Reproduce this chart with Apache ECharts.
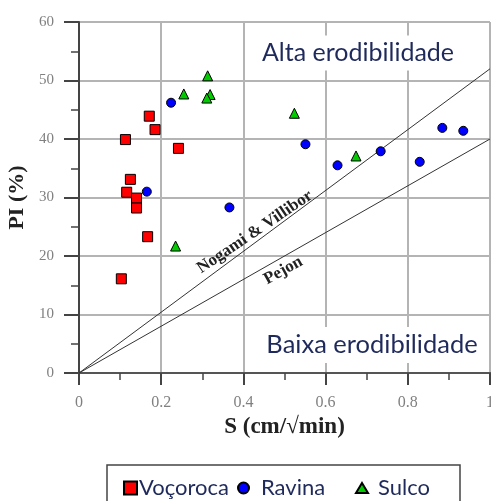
<!DOCTYPE html>
<html><head><meta charset="utf-8">
<script src="https://cdn.jsdelivr.net/npm/echarts@6/dist/echarts.min.js"></script>
<style>html,body{margin:0;padding:0;background:#fff;overflow:hidden}#c{width:491px;height:501px}</style>
</head><body><div id="c"></div>
<script>
// Data
const vocoroca = [[0.113,39.9],[0.171,43.9],[0.185,41.6],[0.242,38.4],[0.125,33.1],[0.116,30.9],[0.140,29.9],[0.140,28.2],[0.167,23.3],[0.103,16.1]];
const ravina = [[0.224,46.2],[0.165,31.0],[0.366,28.3],[0.551,39.1],[0.629,35.5],[0.734,37.9],[0.829,36.1],[0.884,41.9],[0.935,41.4]];
const sulco = [[0.255,47.7],[0.313,50.8],[0.319,47.6],[0.311,47.0],[0.235,21.7],[0.524,44.4],[0.674,37.1]];
const nogamiLine = [[0,0],[1,52]];
const pejonLine = [[0,0],[1,40]];
const seriesNames = ['Voçoroca','Ravina','Sulco'];
const xName = 'S (cm/√min)';
const yName = 'PI (%)';
const regionTop = 'Alta erodibilidade';
const regionBottom = 'Baixa erodibilidade';
const lineLabel1 = 'Nogami & Villibor';
const lineLabel2 = 'Pejon';

const chart = echarts.init(document.getElementById('c'), null, {renderer:'canvas'});
const serif = '"Liberation Serif", "Times New Roman", serif';
const sans = 'Lato, "Open Sans", sans-serif';
const txtColor = '#1f2a5c';

function leg(name, left, w, h, pad){
  return {data:[name], left:left, top:477, itemWidth:w, itemHeight:h, itemGap:0, padding:0,
    textStyle:{fontFamily:sans, fontSize:22, color:txtColor, padding:[0,0,0,pad]}, selectedMode:false};
}

const option = {
  animation:false,
  grid:{left:79, top:22, right:1, bottom:128, containLabel:false, outerBoundsMode:'none'},
  xAxis:[{
    type:'value', min:0, max:1, interval:0.2,
    name:xName, nameLocation:'middle', nameGap:42,
    nameTextStyle:{fontFamily:serif, fontWeight:'bold', fontSize:23, color:'#222'},
    axisLine:{show:true, onZero:false, lineStyle:{color:'#444', width:2}},
    axisTick:{show:true, length:12, lineStyle:{color:'#444', width:2}},
    minorTick:{show:true, splitNumber:2, length:7, lineStyle:{color:'#444', width:1.5}},
    axisLabel:{margin:22, fontFamily:serif, fontSize:16, color:'#808080', hideOverlap:false,
      formatter:v=> (Math.round(v*10)/10).toString()},
    splitLine:{show:true, lineStyle:{color:'#b4b4b4', width:2}}
  },{
    type:'value', position:'top', min:0, max:1,
    axisLine:{show:true, lineStyle:{color:'#555', width:2}},
    axisTick:{show:false}, axisLabel:{show:false}, splitLine:{show:false}
  }],
  yAxis:{
    type:'value', min:0, max:60, interval:10,
    name:yName, nameLocation:'middle', nameGap:42,
    nameTextStyle:{fontFamily:serif, fontWeight:'bold', fontSize:22, color:'#222'},
    axisLine:{show:true, onZero:false, lineStyle:{color:'#444', width:2}},
    axisTick:{show:true, length:15, lineStyle:{color:'#444', width:2}},
    minorTick:{show:true, splitNumber:2, length:8, lineStyle:{color:'#444', width:1.5}},
    axisLabel:{margin:25, fontFamily:serif, fontSize:15, color:'#808080'},
    splitLine:{show:true, lineStyle:{color:'#b4b4b4', width:2}}
  },
  legend:[
    leg(seriesNames[0], 123, 13, 13, -3),
    leg(seriesNames[1], 237, 11, 11, 7),
    leg(seriesNames[2], 355, 12, 10, 5)
  ],
  series:[
    {type:'line', data:nogamiLine, symbol:'none', lineStyle:{color:'#333', width:1}, silent:true, z:1},
    {type:'line', data:pejonLine, symbol:'none', lineStyle:{color:'#333', width:1}, silent:true, z:1},
    {name:seriesNames[0], type:'scatter', data:vocoroca, symbol:'rect', symbolSize:10,
      itemStyle:{color:'#ff0000', borderColor:'#000', borderWidth:1, opacity:1}, z:3},
    {name:seriesNames[1], type:'scatter', data:ravina, symbol:'circle', symbolSize:9,
      itemStyle:{color:'#0000ff', borderColor:'#000', borderWidth:1, opacity:1}, z:3},
    {name:seriesNames[2], type:'scatter', data:sulco, symbol:'triangle', symbolSize:10,
      itemStyle:{color:'#00cc00', borderColor:'#000', borderWidth:1, opacity:1}, z:3}
  ]
};
chart.setOption(option);

const p1 = chart.convertToPixel({xAxisIndex:0, yAxisIndex:0}, [0.428, 24.1]);
const p2 = chart.convertToPixel({xAxisIndex:0, yAxisIndex:0}, [0.497, 17.5]);
chart.setOption({
  graphic:[
    {type:'rect', shape:{x:107, y:465, width:353, height:60}, style:{fill:'none', stroke:'#444', lineWidth:1.5}, z:10},
    {type:'text', x:358, y:53, z:20, style:{text:regionTop, fontFamily:sans, fontSize:25, fill:txtColor, align:'center', verticalAlign:'middle', backgroundColor:'#fff', padding:[5,8]}},
    {type:'text', x:372, y:345, z:20, style:{text:regionBottom, fontFamily:sans, fontSize:25.5, fill:txtColor, align:'center', verticalAlign:'middle', backgroundColor:'#fff', padding:[5,8]}},
    {type:'text', x:p1[0], y:p1[1], rotation:34*Math.PI/180, z:20, style:{text:lineLabel1, fontFamily:serif, fontWeight:'bold', fontSize:17, fill:'#222', align:'center', verticalAlign:'middle'}},
    {type:'text', x:p2[0], y:p2[1], rotation:29*Math.PI/180, z:20, style:{text:lineLabel2, fontFamily:serif, fontWeight:'bold', fontSize:17, fill:'#222', align:'center', verticalAlign:'middle'}}
  ]
});
</script></body></html>
